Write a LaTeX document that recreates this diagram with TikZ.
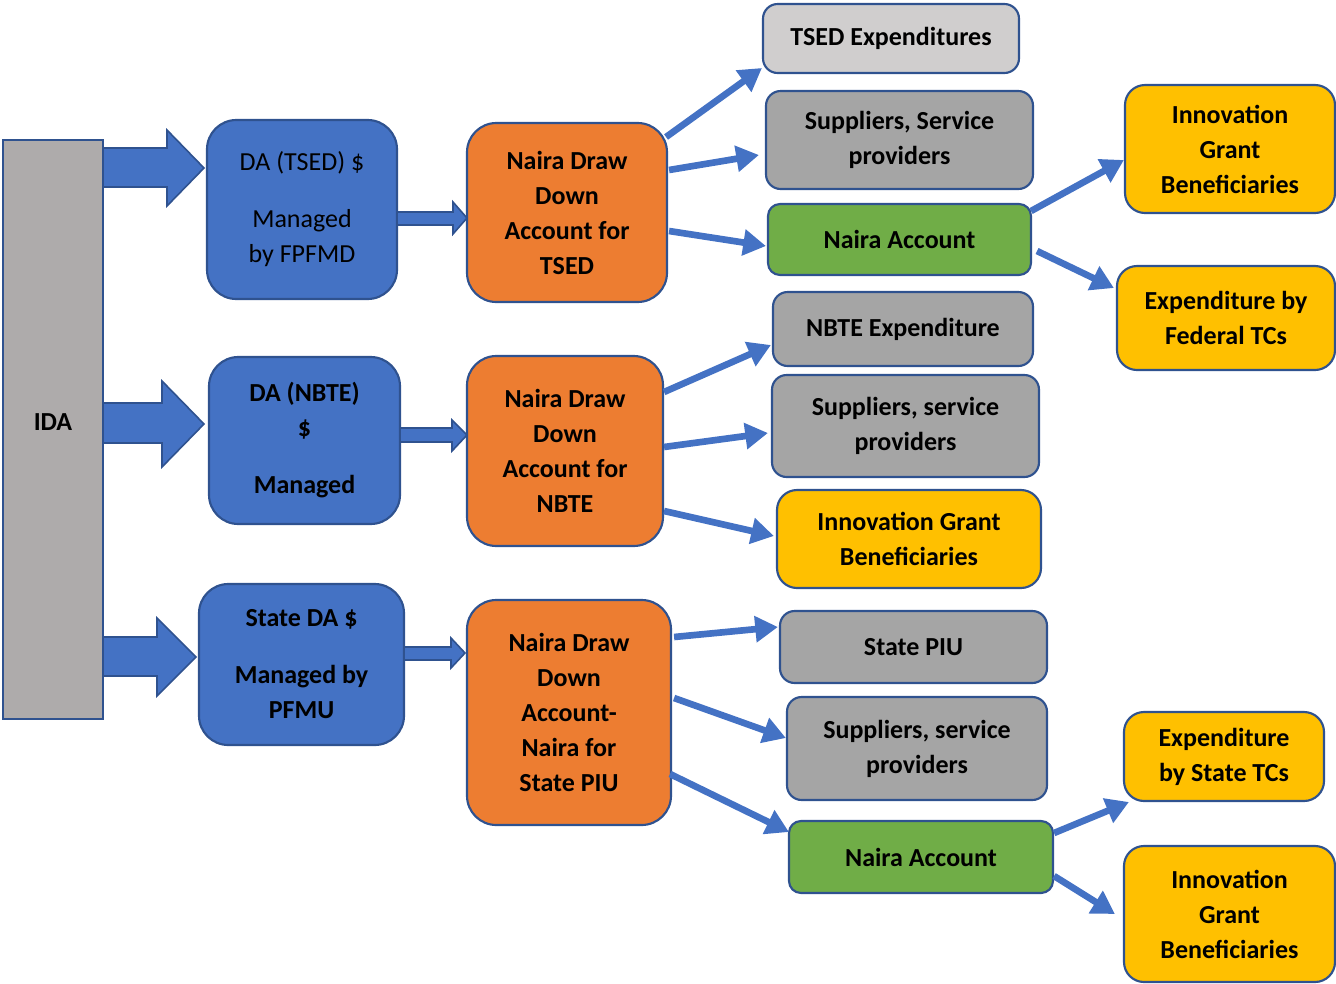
\documentclass[tikz,border=0pt]{standalone}
\usepackage{fontspec}
\setmainfont{Carlito}
\usetikzlibrary{arrows.meta}
\definecolor{bdr}{HTML}{2F528F}
\definecolor{dablue}{HTML}{4472C4}
\definecolor{orng}{HTML}{ED7D31}
\definecolor{gry}{HTML}{A5A5A5}
\definecolor{lgry}{HTML}{D0CECE}
\definecolor{idagry}{HTML}{AEABAB}
\definecolor{grn}{HTML}{70AD47}
\definecolor{ylw}{HTML}{FFC000}
\tikzset{
  wh/.style 2 args={minimum width=#1*0.75pt, minimum height=#2*0.75pt},
  base/.style={draw=bdr, line width=1.6pt, align=center, inner sep=0pt,
    font=\fontsize{19.5pt}{26.25pt}\selectfont\bfseries, text=black},
  dabox/.style={base, fill=dablue, rounded corners=22pt},
  orbox/.style={base, fill=orng, rounded corners=22pt},
  gbox/.style={base, fill=gry, rounded corners=11pt},
  lgbox/.style={base, fill=lgry, rounded corners=11pt},
  grbox/.style={base, fill=grn, rounded corners=9pt},
  ybox/.style={base, fill=ylw, rounded corners=15pt},
  blockarrow/.style={draw=bdr, line width=1.2pt, fill=dablue, line join=miter},
  conn/.style={draw=dablue, line width=5pt, -{Triangle[length=17pt,width=19pt]}},
}
\begin{document}
\begin{tikzpicture}[x=0.75pt, y=-0.75pt]
\useasboundingbox (0,0) rectangle (1336,983);
% IDA column
\node[base, fill=idagry, rounded corners=0pt, wh={100}{579}] (ida) at (53,429.5) {\raisebox{11pt}{IDA}};
% DA boxes
\node[dabox, wh={190}{179}] (da1) at (302,209.5) {\raisebox{3.5pt}{\begin{tabular}{@{}c@{}}\mdseries DA (TSED) \$\\[16.5pt]\mdseries Managed\\\mdseries by FPFMD\end{tabular}}};
\node[dabox, wh={191}{167}] (da2) at (304.5,440.5) {DA (NBTE)\\\$\\[16.5pt]Managed};
\node[dabox, wh={205}{161}] (da3) at (301.5,664.5) {State DA \$\\[16.5pt]Managed by\\PFMU};
% Orange boxes
\node[orbox, wh={200}{179}] (o1) at (567,212.5) {Naira Draw\\Down\\Account for\\TSED};
\node[orbox, wh={196}{190}] (o2) at (565,451) {Naira Draw\\Down\\Account for\\NBTE};
\node[orbox, wh={204}{225}] (o3) at (569,712.5) {Naira Draw\\Down\\Account-\\Naira for\\State PIU};
% Right column
\node[lgbox, wh={256}{69}] (tse) at (891,38.5) {TSED Expenditures};
\node[gbox, wh={267}{98}] (sup1) at (899.5,140) {Suppliers, Service\\providers};
\node[grbox, wh={263}{71}] (na1) at (899.5,239.5) {Naira Account};
\node[gbox, wh={260}{74}] (nbe) at (903,329) {NBTE Expenditure};
\node[gbox, wh={267}{102}] (sup2) at (905.5,426) {Suppliers, service\\providers};
\node[ybox, wh={264}{98}] (igb1) at (909,539) {Innovation Grant\\Beneficiaries};
\node[gbox, wh={267}{72}] (piu) at (913.5,647) {State PIU};
\node[gbox, wh={260}{103}] (sup3) at (917,748.5) {Suppliers, service\\providers};
\node[grbox, wh={264}{72}] (na2) at (921,857) {Naira Account};
% Far right
\node[ybox, wh={210}{128}] (igb2) at (1230,149) {Innovation\\Grant\\Beneficiaries};
\node[ybox, wh={218}{104}] (efed) at (1226,318) {Expenditure by\\Federal TCs};
\node[ybox, wh={200}{89}] (est) at (1224,756.5) {Expenditure\\by State TCs};
\node[ybox, wh={211}{136}] (igb3) at (1229.5,914) {Innovation\\Grant\\Beneficiaries};
% Block arrows
\draw[blockarrow] (103,148) -- (167,148) -- (167,130) -- (204,168) -- (167,206) -- (167,187) -- (103,187) -- cycle;
\draw[blockarrow] (103,403) -- (162,403) -- (162,381) -- (204,424) -- (162,467) -- (162,443) -- (103,443) -- cycle;
\draw[blockarrow] (103,637) -- (157,637) -- (157,618) -- (196,657) -- (157,696) -- (157,676) -- (103,676) -- cycle;
\draw[blockarrow] (397,212) -- (453,212) -- (453,202) -- (467,218) -- (453,234) -- (453,225) -- (397,225) -- cycle;
\draw[blockarrow] (400,428) -- (452,428) -- (452,420) -- (467,435) -- (452,451) -- (452,442) -- (400,442) -- cycle;
\draw[blockarrow] (404,647) -- (451,647) -- (451,638) -- (465,653) -- (451,668) -- (451,660) -- (404,660) -- cycle;
% Connectors
\draw[conn] ([shift={(-2,-75.5)}]o1.east) -- ([shift={(0,29.5)}]tse.west);
\draw[conn] ([shift={(1,-42.5)}]o1.east) -- ([shift={(-6,15)}]sup1.west);
\draw[conn] ([shift={(1,18.5)}]o1.east) -- ([shift={(-1,6.5)}]na1.west);
\draw[conn] ([shift={(-1,-28.5)}]na1.east) -- ([shift={(0,11)}]igb2.west);
\draw[conn] ([shift={(5,11.5)}]na1.east) -- ([shift={(-2,-30)}]efed.west);
\draw[conn] ([shift={(0,-59)}]o2.east) -- ([shift={(-1,16)}]nbe.west);
\draw[conn] ([shift={(0,-4)}]o2.east) -- ([shift={(-3,7)}]sup2.west);
\draw[conn] ([shift={(0,60)}]o2.east) -- ([shift={(-2,-3)}]igb1.west);
\draw[conn] ([shift={(2,-75.5)}]o3.east) -- ([shift={(-1,-20)}]piu.west);
\draw[conn] ([shift={(2,-14.5)}]o3.east) -- ([shift={(0,-10.5)}]sup3.west);
\draw[conn] ([shift={(-2,61.5)}]o3.east) -- ([shift={(1,-25)}]na2.west);
\draw[conn] ([shift={(0,-24)}]na2.east) -- ([shift={(6,45.5)}]est.west);
\draw[conn] ([shift={(0,19)}]na2.east) -- ([shift={(-8,0)}]igb3.west);
\end{tikzpicture}
\end{document}
